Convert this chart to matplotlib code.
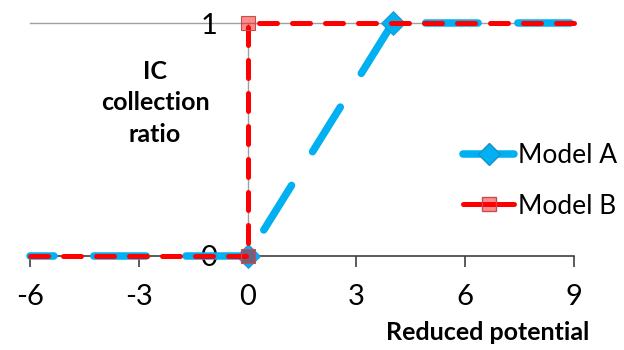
import matplotlib
matplotlib.use("Agg")
import matplotlib.pyplot as plt
from matplotlib.lines import Line2D

# Data
model_a_x = [-6, 0, 4, 9]
model_a_y = [0, 0, 1, 1]
model_b_x = [-6, 0, 0, 9]
model_b_y = [0, 0, 1, 1]
x_ticks = [-6, -3, 0, 3, 6, 9]
y_ticks = [0, 1]
labels = ["Model A", "Model B"]

blue = "#00B0F0"
red = "#FF0000"

plt.rcParams['font.family'] = ['Lato', 'DejaVu Sans']

fig = plt.figure(figsize=(6.24, 3.5), dpi=100)
ax = fig.add_axes([30/624, 94/350, 544/624, 233/350])

ax.set_xlim(-6, 9)
ax.set_ylim(0, 1)

# gridline at y=1
ax.axhline(1, color="#A0A0A0", lw=1.0, zorder=1, clip_on=False)

la, = ax.plot(model_a_x, model_a_y, color=blue, lw=5.4, linestyle=(3.8, (7.0, 5.3)),
              dash_capstyle='round', marker='D', markevery=[1, 2], markersize=12,
              markerfacecolor=blue, markeredgecolor="#1E90C8", markeredgewidth=0.6,
              clip_on=False, zorder=3)
lb, = ax.plot(model_b_x, model_b_y, color=red, lw=3.6, linestyle=(0, (3.6, 3.0)),
              dash_capstyle='round', marker='s', markevery=[1, 2], markersize=10,
              markerfacecolor=(1, 0, 0, 0.45), markeredgecolor="#C0504D", markeredgewidth=0.8,
              clip_on=False, zorder=4)

# spines
for s in ['top', 'right']:
    ax.spines[s].set_visible(False)
ax.spines['left'].set_position(('data', 0))
ax.spines['left'].set_color("#A0A0A0")
ax.spines['left'].set_linewidth(1.0)
ax.spines['left'].set_zorder(1)
ax.spines['bottom'].set_color("#404040")
ax.spines['bottom'].set_linewidth(1.2)

ax.set_xticks(x_ticks)
ax.set_xticklabels([str(v) for v in x_ticks], fontsize=21)
ax.tick_params(axis='x', direction='out', length=8, width=1.2, color="#404040", pad=12)
ax.set_yticks(y_ticks)
ax.set_yticklabels([str(v) for v in y_ticks], fontsize=21)
ax.tick_params(axis='y', length=0, pad=22)

fig.text(155/624, 1 - 103/350, "IC\ncollection\nratio", ha='center', va='center',
         fontsize=18, fontweight='bold', linespacing=1.45)
fig.text(488/624, 1 - 333/350, "Reduced potential", ha='center', va='center',
         fontsize=18, fontweight='bold')

handles = [Line2D([0], [0], color=blue, lw=5.4, solid_capstyle='round', marker='D',
                  markersize=11, markerfacecolor=blue, markeredgecolor="#1E90C8"),
           Line2D([0], [0], color=red, lw=3.6, solid_capstyle='round', marker='s',
                  markersize=10, markerfacecolor=(1, 0, 0, 0.45), markeredgecolor="#C0504D")]
leg = fig.legend(handles, labels, loc='center left', bbox_to_anchor=(463/624, 1 - 181/350),
                 frameon=False, fontsize=19, handlelength=1.95, handletextpad=0.15,
                 labelspacing=0.95, borderpad=0, borderaxespad=0)

fig.savefig("out.png", dpi=100)
